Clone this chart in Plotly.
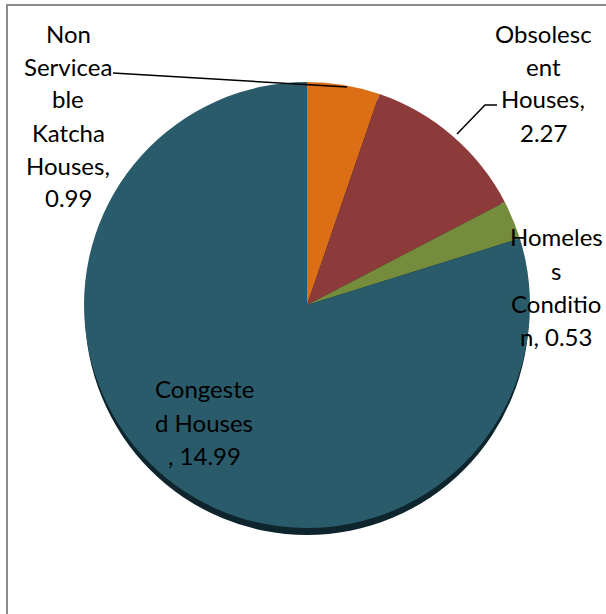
import plotly.graph_objects as go

# Housing shortage components (value per category)
categories = ["Non Serviceable Katcha Houses", "Obsolescent Houses",
              "Homeless Condition", "Congested Houses"]
values = [0.99, 2.27, 0.53, 14.99]
colors = ["#dc6e15", "#8d3a3a", "#758c3d", "#2a5b6b"]

# Wrapped label text as displayed, and how the value joins the last line
wrapped_names = ["Non\nServicea\nble\nKatcha\nHouses,",
                 "Obsolesc\nent\nHouses,",
                 "Homeles\ns\nConditio\nn,",
                 "Congeste\nd Houses\n,"]
value_joins = ["\n", "\n", " ", " "]

W, H = 606, 614


def px(x):
    return x / W


def py(y):
    return 1 - y / H


# Pie geometry in pixels
cx, cy, r = 307, 305, 223

fig = go.Figure()
fig.add_trace(go.Pie(
    labels=categories,
    values=values,
    marker=dict(colors=colors, line=dict(width=0)),
    sort=False,
    direction="clockwise",
    rotation=0,
    textinfo="none",
    hoverinfo="label+value",
    showlegend=False,
    domain=dict(x=[px(cx - r), px(cx + r)], y=[py(cy + r), py(cy - r)]),
))

shapes = []
# dark rim under the disc for a slight 3D look
shapes.append(dict(type="circle", xref="paper", yref="paper", layer="below",
                   x0=px(cx - r + 1), x1=px(cx + r - 1),
                   y0=py(cy + r + 7), y1=py(cy - r + 7),
                   fillcolor="#0f252d", line=dict(width=0)))
# chart frame
shapes.append(dict(type="rect", xref="paper", yref="paper", layer="above",
                   x0=px(7), x1=px(W + 20), y0=py(H + 20), y1=py(5),
                   line=dict(color="#8c8c8c", width=2), fillcolor="rgba(0,0,0,0)"))
# leader lines
shapes.append(dict(type="path", xref="paper", yref="paper", layer="above",
                   path=f"M {px(113)} {py(73)} L {px(347)} {py(87)}",
                   line=dict(color="black", width=1.5)))
shapes.append(dict(type="path", xref="paper", yref="paper", layer="above",
                   path=f"M {px(497)} {py(105)} L {px(485)} {py(105)} L {px(457)} {py(134)}",
                   line=dict(color="black", width=1.5)))

# label anchor (center x, first line center y) in pixels, line pitch
label_pos = [(68, 33), (543, 33), (556, 237), (204, 389)]
line_pitch = 33

annotations = []
for name, join, v, (lx, ly) in zip(wrapped_names, value_joins, values, label_pos):
    text = f"{name}{join}{v:.2f}"
    for i, line in enumerate(text.split("\n")):
        annotations.append(dict(
            x=px(lx), y=py(ly + i * line_pitch), xref="paper", yref="paper",
            text=line, showarrow=False, xanchor="center", yanchor="middle",
            font=dict(family="Lato", size=24, color="black"),
        ))

fig.update_layout(
    width=W, height=H,
    margin=dict(l=0, r=0, t=0, b=0),
    paper_bgcolor="white",
    plot_bgcolor="white",
    shapes=shapes,
    annotations=annotations,
)

fig.write_html("out.html")
